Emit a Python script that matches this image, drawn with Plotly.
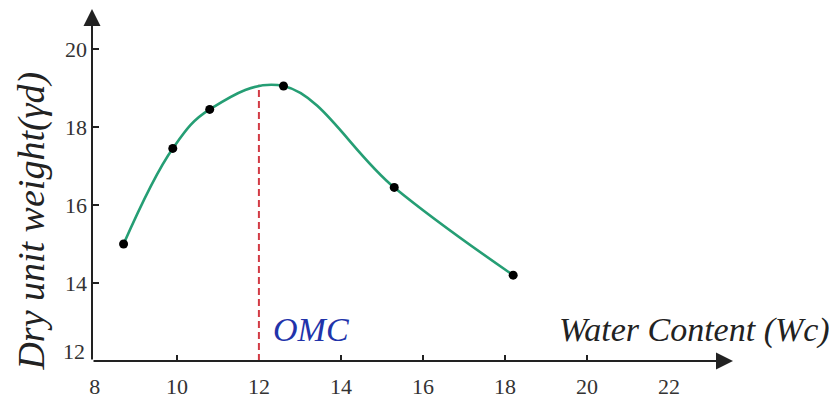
import plotly.graph_objects as go

# Data
water_content = [8.7, 9.9, 10.8, 12.6, 15.3, 18.2]
dry_unit_weight = [15.0, 17.45, 18.45, 19.05, 16.45, 14.2]
omc_x = [12, 12]
omc_y = [12, 19.08]

x_tick_vals = [8, 10, 12, 14, 16, 18, 20, 22]
x_tick_marks = [10, 14, 16, 18, 20]
y_tick_vals = [14, 16, 18, 20]
y_origin_label = "12"

X_RANGE = [7.93, 23.56]
Y_RANGE = [12, 21.05]

SERIF = "Liberation Serif"
AXIS_COLOR = "#222222"
TICK_FONT = dict(family=SERIF, size=22, color="#333333")

fig = go.Figure()

fig.add_trace(go.Scatter(
    x=omc_x, y=omc_y, mode="lines",
    line=dict(color="#d23b45", width=2, dash="7px,4px"),
    hoverinfo="skip", showlegend=False,
))

fig.add_trace(go.Scatter(
    x=water_content, y=dry_unit_weight, mode="lines",
    line=dict(color="#259e74", width=2.6, shape="spline", smoothing=1.1),
    showlegend=False,
))

fig.add_trace(go.Scatter(
    x=water_content, y=dry_unit_weight, mode="markers",
    marker=dict(color="black", size=9),
    showlegend=False,
))

# Axis arrows
fig.add_annotation(x=X_RANGE[1], y=Y_RANGE[0], ax=X_RANGE[0], ay=Y_RANGE[0],
                   xref="x", yref="y", axref="x", ayref="y", text="",
                   showarrow=True, arrowhead=2, arrowsize=1.7, arrowwidth=2,
                   arrowcolor=AXIS_COLOR, standoff=0)
fig.add_annotation(x=0, y=1.0085, ax=0, ay=356,
                   xref="paper", yref="paper", text="",
                   showarrow=True, arrowhead=2, arrowsize=1.7, arrowwidth=2,
                   arrowcolor=AXIS_COLOR, standoff=0)

# Origin label of y axis (sits slightly above the x axis in the reference)
fig.add_annotation(text=y_origin_label, xref="paper", yref="y",
                   x=0, y=Y_RANGE[0], xanchor="right", yanchor="middle",
                   xshift=-5, yshift=10, showarrow=False, font=TICK_FONT)

# Labels
fig.add_annotation(text="<i>Water Content (Wc)</i>", xref="paper", yref="paper",
                   x=1.155, y=0.088, xanchor="right", yanchor="middle",
                   showarrow=False, font=dict(family=SERIF, size=34, color="#222222"))
fig.add_annotation(text="<i>OMC</i>", xref="x", yref="paper",
                   x=12.3, y=0.088, xanchor="left", yanchor="middle",
                   showarrow=False, font=dict(family=SERIF, size=34, color="#2233aa"))
fig.add_annotation(text="<i>Dry unit weight(γd)</i>", xref="paper", yref="paper",
                   x=-0.094, y=0.397, xanchor="center", yanchor="middle", textangle=-90,
                   showarrow=False, font=dict(family=SERIF, size=38, color="#222222"))

fig.update_xaxes(
    range=X_RANGE, tickvals=x_tick_vals, ticks="", showgrid=False, zeroline=False,
    showline=False, tickfont=TICK_FONT, ticklabelstandoff=10,
    minor=dict(tickmode="array", tickvals=x_tick_marks, ticks="inside",
               ticklen=6, tickwidth=2, tickcolor=AXIS_COLOR, showgrid=False),
)
fig.update_yaxes(
    range=Y_RANGE, tickvals=y_tick_vals, ticks="inside", ticklen=7, tickwidth=2,
    tickcolor=AXIS_COLOR, showgrid=False, zeroline=False, showline=False,
    tickfont=TICK_FONT, ticklabelstandoff=4,
)

fig.update_layout(
    width=837, height=398,
    margin=dict(l=84, r=112, t=0, b=45, autoexpand=False),
    plot_bgcolor="white", paper_bgcolor="white",
    font=dict(family=SERIF, size=22, color="#333333"),
    showlegend=False,
)

fig.write_html("out.html")
